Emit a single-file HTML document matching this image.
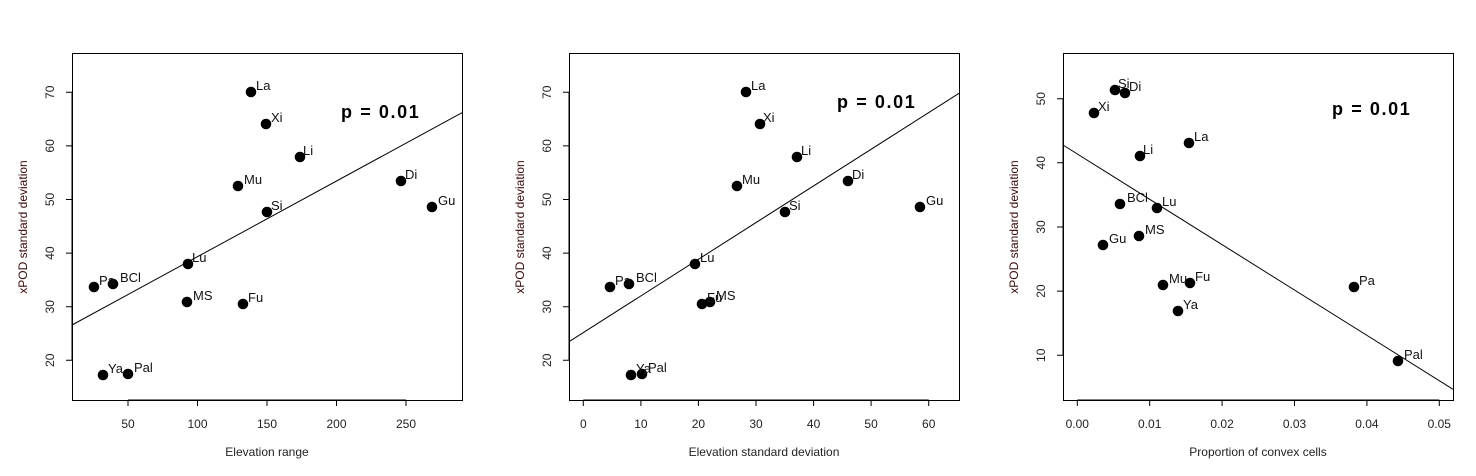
<!DOCTYPE html>
<html><head><meta charset="utf-8"><style>body{margin:0;background:#fff}svg{display:block}text{font-family:"Liberation Sans",sans-serif}</style></head><body>
<svg width="1476" height="476" xmlns="http://www.w3.org/2000/svg">
<g fill="none" stroke="#000" stroke-width="1">
<rect x="72.5" y="53.5" width="390" height="347"/>
<rect x="569.5" y="53.5" width="390" height="347"/>
<rect x="1063.5" y="53.5" width="390" height="347"/>
<line x1="72" y1="325" x2="462" y2="112.7"/>
<line x1="569" y1="341.7" x2="959" y2="93.3"/>
<line x1="1063" y1="145" x2="1453" y2="389.3"/>
</g>
<g stroke="#000">
<path d="M128,400v6M197.5,400v6M267,400v6M336.5,400v6M406,400v6M128,400H406"/>
<path d="M72,360.3h-6M72,306.7h-6M72,253.1h-6M72,199.5h-6M72,145.9h-6M72,92.3h-6M72,92.3V360.3"/>
<path d="M583.3,400v6M640.9,400v6M698.4,400v6M756,400v6M813.6,400v6M871.1,400v6M928.7,400v6M583.3,400H928.7"/>
<path d="M569,360.3h-6M569,306.7h-6M569,253.1h-6M569,199.5h-6M569,145.9h-6M569,92.3h-6M569,92.3V360.3"/>
<path d="M1077.3,400v6M1149.7,400v6M1222.1,400v6M1294.5,400v6M1366.9,400v6M1439.3,400v6M1077.3,400H1439.3"/>
<path d="M1063,355.3h-6M1063,291.1h-6M1063,227h-6M1063,162.8h-6M1063,98.7h-6M1063,98.7V355.3"/>
</g>
<g font-size="12" fill="#222" text-anchor="middle">
<text x="128" y="428">50</text><text x="197.5" y="428">100</text><text x="267" y="428">150</text><text x="336.5" y="428">200</text><text x="406" y="428">250</text>
<text x="583.3" y="428">0</text><text x="640.9" y="428">10</text><text x="698.4" y="428">20</text><text x="756" y="428">30</text><text x="813.6" y="428">40</text><text x="871.1" y="428">50</text><text x="928.7" y="428">60</text>
<text x="1077.3" y="428">0.00</text><text x="1149.7" y="428">0.01</text><text x="1222.1" y="428">0.02</text><text x="1294.5" y="428">0.03</text><text x="1366.9" y="428">0.04</text><text x="1439.3" y="428">0.05</text>
<text x="267" y="456">Elevation range</text>
<text x="764" y="456">Elevation standard deviation</text>
<text x="1258" y="456">Proportion of convex cells</text>
<g transform="translate(54,0)">
<text transform="translate(0,360.3) rotate(-90)">20</text><text transform="translate(0,306.7) rotate(-90)">30</text><text transform="translate(0,253.1) rotate(-90)">40</text><text transform="translate(0,199.5) rotate(-90)">50</text><text transform="translate(0,145.9) rotate(-90)">60</text><text transform="translate(0,92.3) rotate(-90)">70</text>
</g>
<g transform="translate(551,0)">
<text transform="translate(0,360.3) rotate(-90)">20</text><text transform="translate(0,306.7) rotate(-90)">30</text><text transform="translate(0,253.1) rotate(-90)">40</text><text transform="translate(0,199.5) rotate(-90)">50</text><text transform="translate(0,145.9) rotate(-90)">60</text><text transform="translate(0,92.3) rotate(-90)">70</text>
</g>
<g transform="translate(1045,0)">
<text transform="translate(0,355.3) rotate(-90)">10</text><text transform="translate(0,291.1) rotate(-90)">20</text><text transform="translate(0,227) rotate(-90)">30</text><text transform="translate(0,162.8) rotate(-90)">40</text><text transform="translate(0,98.7) rotate(-90)">50</text>
</g>
<g fill="#3a0a0a">
<text transform="translate(27,227) rotate(-90)">xPOD standard deviation</text>
<text transform="translate(524,227) rotate(-90)">xPOD standard deviation</text>
<text transform="translate(1018,227) rotate(-90)">xPOD standard deviation</text>
</g>
</g>
<g font-size="18" font-weight="bold" fill="#000" letter-spacing="1.6">
<text x="341" y="118">p = 0.01</text>
<text x="837" y="108">p = 0.01</text>
<text x="1332" y="115">p = 0.01</text>
</g>
<g fill="#000">
<circle cx="251" cy="92" r="5.3"/><circle cx="266" cy="124" r="5.3"/><circle cx="300" cy="157" r="5.3"/><circle cx="238" cy="186" r="5.3"/><circle cx="267" cy="212" r="5.3"/><circle cx="401" cy="181" r="5.3"/><circle cx="432" cy="207" r="5.3"/><circle cx="188" cy="264" r="5.3"/><circle cx="94" cy="287" r="5.3"/><circle cx="113" cy="284" r="5.3"/><circle cx="187" cy="302" r="5.3"/><circle cx="243" cy="304" r="5.3"/><circle cx="103" cy="375" r="5.3"/><circle cx="128" cy="374" r="5.3"/>
<circle cx="746" cy="92" r="5.3"/><circle cx="760" cy="124" r="5.3"/><circle cx="797" cy="157" r="5.3"/><circle cx="737" cy="186" r="5.3"/><circle cx="785" cy="212" r="5.3"/><circle cx="848" cy="181" r="5.3"/><circle cx="920" cy="207" r="5.3"/><circle cx="695" cy="264" r="5.3"/><circle cx="610" cy="287" r="5.3"/><circle cx="629" cy="284" r="5.3"/><circle cx="702" cy="304" r="5.3"/><circle cx="710" cy="302" r="5.3"/><circle cx="631" cy="375" r="5.3"/><circle cx="642" cy="374" r="5.3"/>
<circle cx="1115" cy="90" r="5.3"/><circle cx="1125" cy="93" r="5.3"/><circle cx="1094" cy="113" r="5.3"/><circle cx="1189" cy="143" r="5.3"/><circle cx="1140" cy="156" r="5.3"/><circle cx="1120" cy="204" r="5.3"/><circle cx="1157" cy="208" r="5.3"/><circle cx="1139" cy="236" r="5.3"/><circle cx="1103" cy="245" r="5.3"/><circle cx="1163" cy="285" r="5.3"/><circle cx="1190" cy="283" r="5.3"/><circle cx="1178" cy="311" r="5.3"/><circle cx="1354" cy="287" r="5.3"/><circle cx="1398" cy="361" r="5.3"/>
</g>
<g font-size="13" fill="#111">
<text x="256" y="90">La</text><text x="271" y="122">Xi</text><text x="303" y="155">Li</text><text x="244" y="184">Mu</text><text x="271" y="210">Si</text><text x="405" y="179">Di</text><text x="438" y="205">Gu</text><text x="192" y="262">Lu</text><text x="99" y="285">Pa</text><text x="120" y="282">BCl</text><text x="193" y="300">MS</text><text x="248" y="302">Fu</text><text x="108" y="373">Ya</text><text x="134" y="372">Pal</text>
<text x="751" y="90">La</text><text x="763" y="122">Xi</text><text x="801" y="155">Li</text><text x="742" y="184">Mu</text><text x="789" y="210">Si</text><text x="852" y="179">Di</text><text x="926" y="205">Gu</text><text x="700" y="262">Lu</text><text x="615" y="285">Pa</text><text x="636" y="282">BCl</text><text x="707" y="302">Fu</text><text x="716" y="300">MS</text><text x="636" y="373">Ya</text><text x="648" y="372">Pal</text>
<text x="1118" y="88">Si</text><text x="1129" y="91">Di</text><text x="1098" y="111">Xi</text><text x="1194" y="141">La</text><text x="1143" y="154">Li</text><text x="1127" y="202">BCl</text><text x="1162" y="206">Lu</text><text x="1145" y="234">MS</text><text x="1109" y="243">Gu</text><text x="1169" y="283">Mu</text><text x="1195" y="281">Fu</text><text x="1183" y="309">Ya</text><text x="1359" y="285">Pa</text><text x="1404" y="359">Pal</text>
</g>
</svg>
</body></html>
